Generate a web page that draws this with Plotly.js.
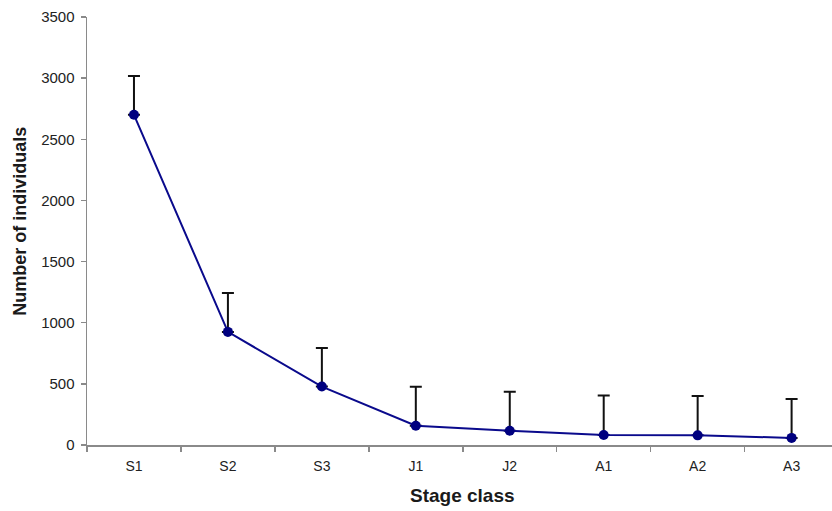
<!DOCTYPE html>
<html>
<head>
<meta charset="utf-8">
<script src="https://cdn.plot.ly/plotly-3.0.1.min.js"></script>
<style>html,body{margin:0;padding:0;background:#fff;}#chart{width:832px;height:511px;}</style>
</head>
<body>
<div id="chart"></div>
<script>
const stages = ["S1", "S2", "S3", "J1", "J2", "A1", "A2", "A3"];
const individuals = [2700, 925, 478, 158, 117, 82, 79, 58];
const errorUpper = [318, 318, 316, 318, 318, 322, 321, 318];
const yTicks = [0, 500, 1000, 1500, 2000, 2500, 3000, 3500];
const xTitle = "Stage class";
const yTitle = "Number of individuals";

const trace = {
  x: stages,
  y: individuals,
  type: "scatter",
  mode: "lines+markers",
  line: {color: "#0a0a8c", width: 2},
  marker: {color: "#00007f", size: 10},
  error_y: {
    type: "data",
    symmetric: false,
    array: errorUpper,
    arrayminus: individuals.map(() => 0),
    color: "#111111",
    thickness: 2,
    width: 6
  },
  hoverinfo: "none"
};

const titleFont = {family: "Liberation Sans, Arial, sans-serif", color: "#1a1a1a", weight: "bold"};

const layout = {
  width: 832,
  height: 511,
  margin: {l: 86.5, r: 0, t: 16.5, b: 66},
  paper_bgcolor: "#ffffff",
  plot_bgcolor: "#ffffff",
  showlegend: false,
  font: {family: "Liberation Sans, Arial, sans-serif", color: "#222222", size: 14},
  xaxis: {
    type: "category",
    range: [-0.5, 7.43],
    showline: true,
    linecolor: "#8a8a8a",
    linewidth: 1.5,
    showgrid: false,
    zeroline: false,
    ticks: "outside",
    tickson: "boundaries",
    ticklen: 5,
    tickcolor: "#8a8a8a",
    tickwidth: 1.5,
    ticklabelstandoff: 8,
    tickfont: {size: 14, color: "#222222"}
  },
  yaxis: {
    range: [0, 3500],
    tickvals: yTicks,
    showline: true,
    linecolor: "#8a8a8a",
    linewidth: 1.5,
    showgrid: false,
    zeroline: false,
    ticks: "outside",
    ticklen: 5,
    tickcolor: "#8a8a8a",
    tickwidth: 1.5,
    ticklabelstandoff: 3,
    tickfont: {size: 15, color: "#222222"}
  },
  annotations: [
    {text: xTitle, xref: "paper", yref: "paper", x: 0.504, y: -0.119, xanchor: "center", yanchor: "middle",
     showarrow: false, font: Object.assign({size: 19}, titleFont)},
    {text: yTitle, xref: "paper", yref: "paper", x: -0.0892, y: 0.523, xanchor: "center", yanchor: "middle",
     textangle: -90, showarrow: false, font: Object.assign({size: 18}, titleFont)}
  ]
};

Plotly.newPlot("chart", [trace], layout, {displayModeBar: false, staticPlot: true});
</script>
</body>
</html>
